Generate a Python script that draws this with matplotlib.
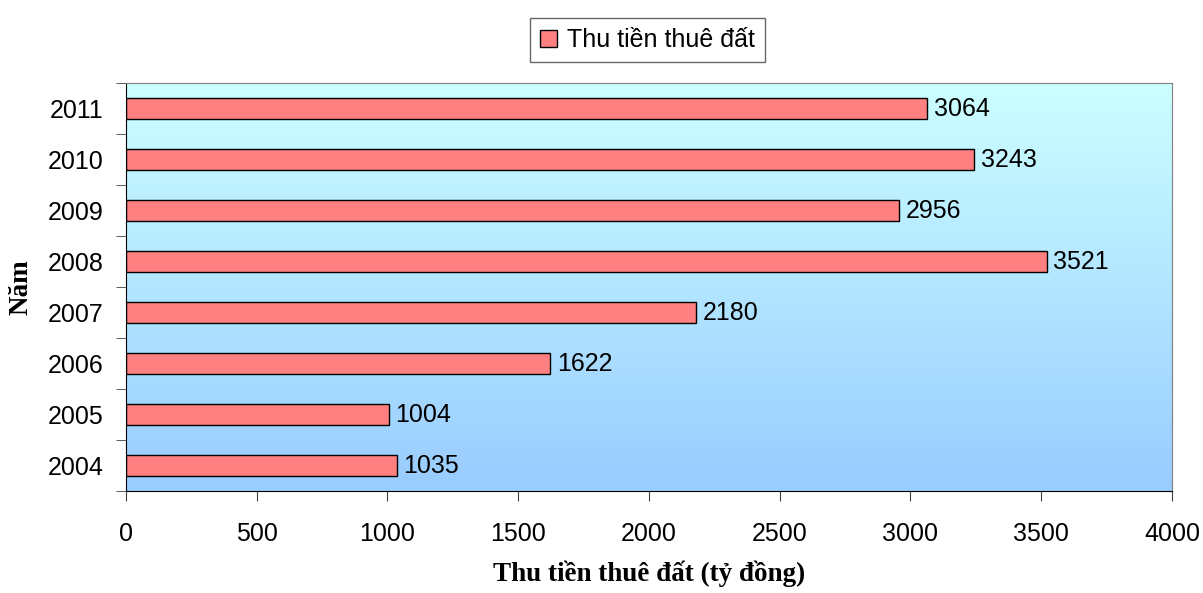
import numpy as np
import matplotlib.pyplot as plt
from matplotlib.patches import Patch

years = ["2004", "2005", "2006", "2007", "2008", "2009", "2010", "2011"]
revenue = [1035, 1004, 1622, 2180, 3521, 2956, 3243, 3064]
x_ticks = [0, 500, 1000, 1500, 2000, 2500, 3000, 3500, 4000]

plt.rcParams['font.family'] = ['Liberation Sans', 'DejaVu Sans']

fig = plt.figure(figsize=(12.03, 5.93), dpi=100)
ax = fig.add_axes([0.1047, 0.172, 0.8695, 0.688])

ypos = np.arange(len(years))

# background gradient: light cyan at top to sky blue at bottom
grad = np.linspace(0, 1, 256).reshape(-1, 1)
top = np.array([0.80, 1.0, 1.0])
bottom = np.array([0.60, 0.80, 1.0])
img = top + (bottom - top) * grad[:, :, None] * np.ones((1, 2, 1))
ax.imshow(img, extent=[0, 4000, -0.5, 7.5], origin='upper', aspect='auto', zorder=0)

bars = ax.barh(ypos, revenue, height=0.43, color='#FF8080', edgecolor='black',
               linewidth=1.0, zorder=2)

for y, v in zip(ypos, revenue):
    ax.text(v + 25, y, str(v), va='center', ha='left', fontsize=18, zorder=3)

ax.set_xlim(0, 4000)
ax.set_ylim(-0.5, 7.5)
ax.set_xticks(x_ticks)
ax.set_xticklabels([str(t) for t in x_ticks], fontsize=18)
ax.set_yticks(ypos)
ax.set_yticklabels(years, fontsize=18)
ax.tick_params(axis='y', length=0, pad=16)
ax.set_yticks(np.arange(-0.5, 8.0, 1.0), minor=True)
ax.tick_params(axis='y', which='minor', length=7, color='#404040')
ax.tick_params(axis='x', length=7, pad=15, color='#404040')

for side in ['top', 'right']:
    ax.spines[side].set_color('#808080')
for side in ['left', 'bottom']:
    ax.spines[side].set_color('black')

ax.set_xlabel('Thu tiền thuê đất (tỷ đồng)', fontsize=19.5, fontweight='bold',
              family='Liberation Serif', labelpad=11)
ax.set_ylabel('Năm', fontsize=19.5, fontweight='bold', family='Liberation Serif',
              labelpad=10)

leg = fig.legend(handles=[Patch(facecolor='#FF8080', edgecolor='black',
                                label='Thu tiền thuê đất')],
                 loc='upper center', bbox_to_anchor=(0.538, 0.99),
                 fontsize=18, frameon=True, fancybox=False, handlelength=0.7,
                 handleheight=0.7, handletextpad=0.4, borderpad=0.4)
leg.get_frame().set_edgecolor('#404040')
leg.get_frame().set_linewidth(1.0)

fig.savefig('out.png', dpi=100)
